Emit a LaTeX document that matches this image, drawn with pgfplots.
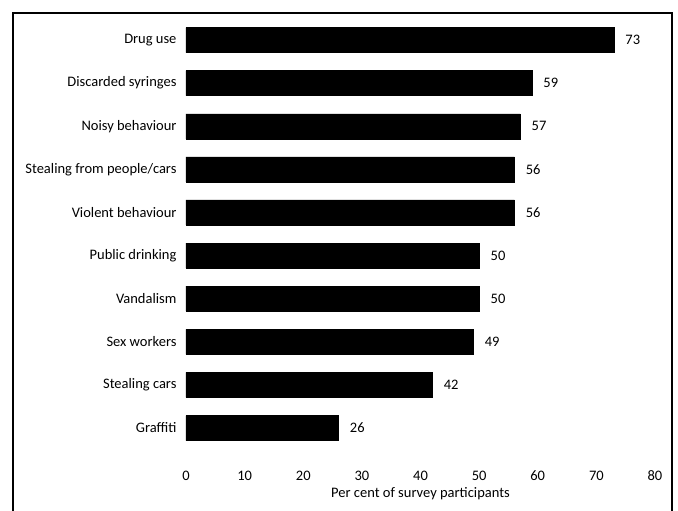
\documentclass[border=0pt]{standalone}
\usepackage{fontspec}
\setmainfont{Carlito}
\usepackage{pgfplots}
\pgfplotsset{compat=1.18}

\begin{document}
\begin{tikzpicture}[x=1pt,y=1pt]
\useasboundingbox (0,0) rectangle (678,511);
% frame round the figure (bottom edge is cut off)
\draw[line width=2.5pt] (13,0) -- (13,498) -- (672,498) -- (672,0);

\begin{axis}[
    at={(186pt,52.8pt)}, anchor=south west,
    scale only axis,
    width=469pt, height=444pt,
    xbar,
    bar width=25pt,
    xmin=0, xmax=80,
    ymin=-0.7, ymax=9.6,
    axis line style={draw=none},
    major tick length=0pt,
    xtick={0,10,...,80},
    ytick={0,...,9},
    yticklabels={Graffiti,Stealing cars,Sex workers,Vandalism,Public drinking,Violent behaviour,Stealing from people/cars,Noisy behaviour,Discarded syringes,Drug use},
    yticklabel style={font=\fontsize{14.5}{16}\selectfont, xshift=-6pt},
    xticklabel style={font=\fontsize{14.5}{16}\selectfont, yshift=-9pt},
    /pgf/number format/assume math mode=true,
    xlabel={Per cent of survey participants},
    xlabel style={font=\fontsize{14.5}{16}\selectfont, yshift=0pt},
    nodes near coords,
    nodes near coords style={font=\fontsize{14.5}{16}\selectfont, anchor=west, xshift=8pt},
    point meta=explicit symbolic,
]
\addplot[fill=black, draw=black] coordinates {
    (26,0) [26]
    (42,1) [42]
    (49,2) [49]
    (50,3) [50]
    (50,4) [50]
    (56,5) [56]
    (56,6) [56]
    (57,7) [57]
    (59,8) [59]
    (73,9) [73]
};
\end{axis}
\end{tikzpicture}
\end{document}
